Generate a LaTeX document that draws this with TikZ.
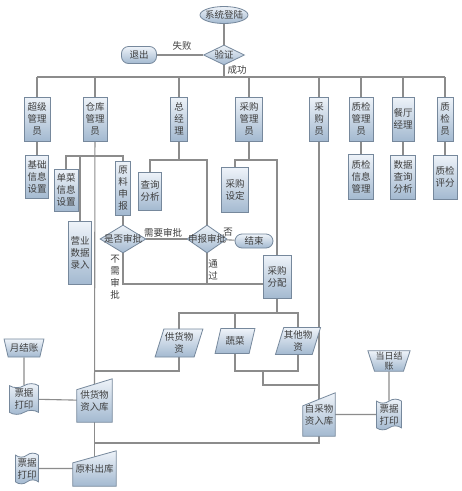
\documentclass[tikz,border=0pt]{standalone}
\usepackage{fontspec}
\setmainfont{Noto Sans CJK SC}
\usetikzlibrary{calc,shapes.geometric,shapes.symbols}

\definecolor{wiregray}{RGB}{140,140,140}
\definecolor{rim}{RGB}{118,136,156}
\definecolor{hi}{RGB}{238,243,249}
\definecolor{lo}{RGB}{163,185,208}
\definecolor{ink}{RGB}{62,62,62}
\pgfdeclarelayer{bg}
\pgfsetlayers{bg,main}

\tikzset{
  flow/.style={draw=rim,line width=0.8pt,top color=hi,bottom color=lo,text=ink,
    font=\fontsize{9.5}{12}\selectfont,inner sep=1pt,align=center},
  box/.style={flow,rectangle},
  term/.style={flow,rectangle,rounded corners=7pt},
  dec/.style={flow,diamond,inner sep=0pt},
  para/.style={flow,trapezium,trapezium left angle=70,trapezium right angle=110,
    trapezium stretches=true,inner xsep=0pt},
  manop/.style={flow,trapezium,trapezium angle=70,shape border rotate=180,
    trapezium stretches=true},
  tapebox/.style={flow,tape,tape bend height=4pt},
  manin/.style={rectangle,inner sep=1pt,text=ink,font=\fontsize{9.5}{12}\selectfont,align=center},
  manfill/.style={draw=rim,line width=0.8pt,top color=hi,bottom color=lo},
  txt/.style={text=ink,font=\fontsize{9.5}{12}\selectfont,inner sep=0pt,align=center},
  link/.style={draw=wiregray,line width=1.1pt}
}

\begin{document}
\begin{tikzpicture}[x=1pt,y=-1pt]
  \useasboundingbox (0,0) rectangle (462,491);
  % login
  \node[flow,ellipse,minimum width=48pt,minimum height=17pt,label={[txt]center:系统登陆}] (login) at (224,15) {};
  \node[dec,minimum width=41pt,minimum height=20pt,label={[txt]center:验证}] (verify) at (224,55) {};
  \node[term,minimum width=35pt,minimum height=17pt] (quit) at (139,55) {退出};
  \node[txt] (lfail) at (182,46) {失败};
  \node[txt] (lok) at (237,70) {成功};
  % roles
  \node[box,minimum width=26pt,minimum height=44pt] (super) at (37,119) {超级\\管理\\员};
  \node[box,minimum width=24pt,minimum height=44pt] (store) at (95,119) {仓库\\管理\\员};
  \node[box,minimum width=17pt,minimum height=44pt] (boss) at (179,119) {总\\经\\理};
  \node[box,minimum width=27pt,minimum height=44pt] (buymgr) at (249,119) {采购\\管理\\员};
  \node[box,minimum width=19pt,minimum height=44pt] (buyer) at (319,119) {采\\购\\员};
  \node[box,minimum width=24pt,minimum height=44pt] (qcmgr) at (361,119) {质检\\管理\\员};
  \node[box,minimum width=22pt,minimum height=44pt] (diner) at (403,119) {餐厅\\经理};
  \node[box,minimum width=16pt,minimum height=44pt] (qc) at (445,119) {质\\检\\员};
  % tasks
  \node[box,minimum width=23pt,minimum height=43pt] (basic) at (37,177) {基础\\信息\\设置};
  \node[box,minimum width=24pt,minimum height=42pt] (dish) at (66,190) {单菜\\信息\\设置};
  \node[box,minimum width=23pt,minimum height=63pt] (sales) at (80,253) {营业\\数据\\录入};
  \node[box,minimum width=15pt,minimum height=54pt] (apply) at (123,188) {原\\料\\申\\报};
  \node[box,minimum width=23pt,minimum height=38pt] (query) at (150,191) {查询\\分析};
  \node[box,minimum width=27pt,minimum height=45pt] (plan) at (235,190) {采购\\设定};
  \node[box,minimum width=25pt,minimum height=45pt] (qcinfo) at (361,177) {质检\\信息\\管理};
  \node[box,minimum width=25pt,minimum height=44pt] (data) at (403,177) {数据\\查询\\分析};
  \node[box,minimum width=24pt,minimum height=44pt] (score) at (445,177) {质检\\评分};
  % approval
  \node[dec,minimum width=46pt,minimum height=28pt,label={[txt]center:是否审批}] (need) at (123,239) {};
  \node[dec,minimum width=40pt,minimum height=28pt,label={[txt]center:申报审批}] (check) at (207,239) {};
  \node[term,minimum width=38pt,minimum height=14pt] (stop) at (254,241) {结束};
  \node[box,minimum width=28pt,minimum height=43pt] (assign) at (277,277) {采购\\分配};
  \node[txt] (lneed) at (163,233) {需要审批};
  \node[txt] (lno) at (228,232) {否};
  \node[txt] (lnot) at (115,277) {不\\需\\审\\批};
  \node[txt] (lpass) at (213,270) {通\\过};
  % goods
  \node[para,minimum width=48pt,minimum height=28pt] (p1) at (179,343) {供货物\\资};
  \node[para,minimum width=40pt,minimum height=25pt] (p2) at (235,341) {蔬菜};
  \node[para,minimum width=41pt,minimum height=27pt] (p3) at (298,341) {其他物\\资};
  \node[manin,minimum width=35pt,minimum height=43pt] (inGong) at (94.5,400.5) {供货物\\资入库};
  \node[manin,minimum width=43pt,minimum height=35pt] (outYuan) at (94.5,468.5) {原料出库};
  \node[manin,minimum width=32pt,minimum height=43pt] (inZi) at (319,414.5) {自采物\\资入库};
  \node[manop,minimum width=40pt,minimum height=18pt] (month) at (24,348) {月结账};
  \node[manop,minimum width=35pt,minimum height=20pt,trapezium angle=72,
    font=\fontsize{9}{10}\selectfont] (today) at (389,361) {当日结\\账};
  \node[tapebox,minimum width=29pt,minimum height=30pt] (bill1) at (24,399) {票据\\打印};
  \node[tapebox,minimum width=23pt,minimum height=30pt] (bill2) at (27,468.5) {票据\\打印};
  \node[tapebox,minimum width=25pt,minimum height=26pt] (bill3) at (389,414.5) {票据\\打印};

  \begin{pgfonlayer}{bg}
    \fill[white] (0,0) rectangle (462,491);
    \coordinate (bus) at (224,77);
    \draw[link] (login) -- (verify);
    \draw[link] (quit) -- (verify);
    \draw[link] (verify) -- (bus);
    \draw[link] (super.north |- bus) -- (qc.north |- bus);
    \foreach \n in {super,store,boss,buymgr,buyer,qcmgr,diner,qc}
      \draw[link] (\n) -- (\n |- bus);
    \draw[link] (super) -- (basic);
    \draw[link] (qcmgr) -- (qcinfo);
    \draw[link] (diner) -- (data);
    \draw[link] (qc) -- (score);
    % warehouse branch
    \coordinate (wj) at (95,156);
    \draw[link] (store) -- (inGong.center);
    \draw[link] (dish) |- (apply |- wj) -- (apply);
    \draw[link] (sales) -- (sales |- wj);
    \draw[link] (apply) -- (need);
    % manager branch
    \coordinate (bj) at (179,160);
    \draw[link] (boss) -- (bj);
    \draw[link] (query) |- (check |- bj) -- (check);
    \coordinate (cj) at (249,160);
    \draw[link] (buymgr) -- (cj);
    \draw[link] (plan) |- (assign |- cj) -- (assign);
    \draw[link] (buyer) -- (inZi.center);
    % approval
    \draw[link] (need) -- (check);
    \draw[link] (check) -- (stop);
    \coordinate (pj) at (263,284);
    \draw[link] (need) |- (pj);
    \draw[link] (check) -- (check |- pj);
    % goods
    \coordinate (aj) at (277,313);
    \draw[link] (assign) -- (aj);
    \draw[link] (p1) |- (aj) -| (p3);
    \draw[link] (p2) -- (p2 |- aj);
    \coordinate (gj) at (95,371);
    \draw[link] (p1) |- (gj);
    \coordinate (sj) at (298,371);
    \draw[link] (p2) |- (sj) -- (p3);
    \coordinate (mj) at (263,371);
    \coordinate (zj) at (319,385);
    \draw[link] (mj) |- (zj);
    \coordinate (oj) at (95,443);
    \draw[link] (inZi.center) |- (oj);
    \draw[link] (inGong.center) -- (outYuan.center);
    \draw[link] (month) -- (bill1);
    \draw[link] (bill1) -- (inGong.center);
    \draw[link] (bill2) -- (outYuan.center);
    \draw[link] (today) -- (bill3);
    \draw[link] (inZi.center) -- (bill3);
    % manual input outlines
    \foreach \n/\s in {inGong/0.25,outYuan/0.34,inZi/0.3}
      \shadedraw[manfill] (\n.south west) -- (\n.south east) -- (\n.north east)
        -- ($(\n.north west)!\s!(\n.south west)$) -- cycle;
  \end{pgfonlayer}
\end{tikzpicture}
\end{document}
